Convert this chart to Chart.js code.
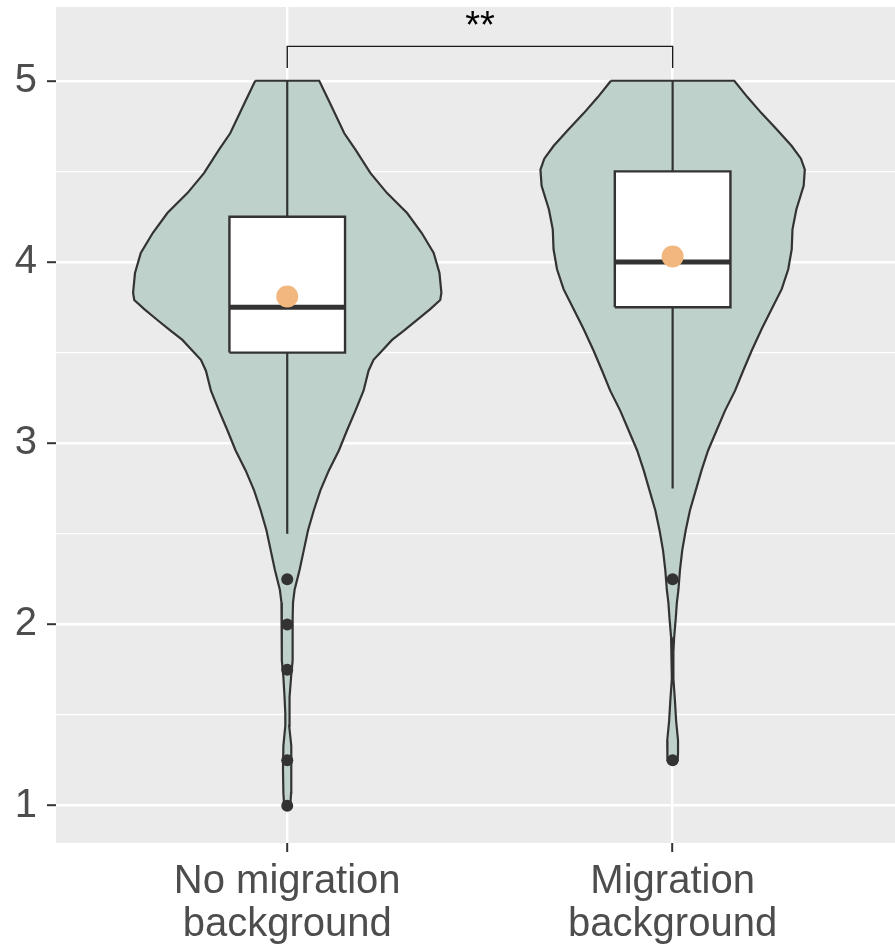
<!DOCTYPE html>
<html>
<head>
<meta charset="utf-8">
<script src="https://cdn.jsdelivr.net/npm/chart.js@4.4.1/dist/chart.umd.min.js"></script>
<style>
  html, body { margin: 0; padding: 0; background: #ffffff; overflow: hidden; }
  #chart { display: block; }
</style>
</head>
<body>
<canvas id="chart" width="895" height="947"></canvas>
<script>
// ---- data ----
const categories = [['No migration', 'background'], ['Migration', 'background']];
const yTickValues = [1, 2, 3, 4, 5];

// violin outlines: score value and half-width (in category units)
const violinNoMigValues = [5.00, 4.89, 4.71, 4.62, 4.49, 4.38, 4.27, 4.16, 4.05, 3.94, 3.83, 3.79, 3.74, 3.68, 3.62, 3.57, 3.51, 3.46, 3.40, 3.29, 3.18, 3.07, 2.96, 2.85, 2.74, 2.63, 2.52, 2.41, 2.30, 2.19, 2.12, 2.03, 1.80, 1.71, 1.60, 1.51, 1.44, 1.33, 1.20, 1.07, 1.00];
const violinNoMigHalfWidths = [0.083, 0.108, 0.148, 0.177, 0.216, 0.259, 0.311, 0.349, 0.380, 0.395, 0.400, 0.397, 0.371, 0.337, 0.302, 0.272, 0.246, 0.224, 0.211, 0.198, 0.177, 0.155, 0.134, 0.108, 0.086, 0.069, 0.054, 0.043, 0.032, 0.019, 0.015, 0.014, 0.014, 0.010, 0.007, 0.005, 0.005, 0.010, 0.011, 0.010, 0.008];
const violinMigValues = [5.00, 4.91, 4.82, 4.73, 4.64, 4.57, 4.51, 4.42, 4.29, 4.18, 4.07, 3.96, 3.85, 3.74, 3.63, 3.51, 3.40, 3.29, 3.18, 3.07, 2.96, 2.85, 2.74, 2.63, 2.52, 2.41, 2.30, 2.19, 2.12, 2.03, 1.93, 1.85, 1.70, 1.58, 1.47, 1.36, 1.29, 1.25];
const violinMigHalfWidths = [0.160, 0.194, 0.231, 0.271, 0.309, 0.333, 0.343, 0.340, 0.321, 0.311, 0.309, 0.300, 0.283, 0.257, 0.231, 0.205, 0.183, 0.162, 0.136, 0.114, 0.092, 0.075, 0.060, 0.045, 0.034, 0.025, 0.019, 0.015, 0.011, 0.008, 0.004, 0.002, 0.002, 0.006, 0.009, 0.014, 0.014, 0.013];

// boxplot statistics per group
const boxQ1 = [3.50, 3.75];
const boxMedian = [3.75, 4.00];
const boxQ3 = [4.25, 4.50];
const whiskerLow = [2.50, 2.75];
const whiskerHigh = [5.00, 5.00];
const groupMeans = [3.81, 4.03];
const outliersNoMig = [2.25, 2.00, 1.75, 1.25, 1.00];
const outliersMig = [2.25, 1.25];

// significance bracket between the two groups
const significanceLabel = '**';
const bracketTop = 5.19;
const bracketFoot = 5.07;

// ---- styling ----
const BOX_HALF = 0.15;
const INK = '#333333';
const VIOLIN_FILL = '#BFD1CB';
const MEAN_COLOR = '#F1B77E';
const FONT_FAMILY = "'Liberation Sans', Arial, sans-serif";

function violinPolygon(center, values, halfWidths) {
  const left = values.map((v, i) => ({ x: center - halfWidths[i], y: v }));
  const right = values.map((v, i) => ({ x: center + halfWidths[i], y: v })).reverse();
  const pts = left.concat(right);
  pts.push(pts[0]);
  return pts;
}

const datasets = [];
const violins = [
  [violinNoMigValues, violinNoMigHalfWidths],
  [violinMigValues, violinMigHalfWidths]
];
const outlierSets = [outliersNoMig, outliersMig];

categories.forEach((cat, i) => {
  const c = i + 1;
  // violin body
  datasets.push({
    data: violinPolygon(c, violins[i][0], violins[i][1]),
    fill: 'shape',
    backgroundColor: VIOLIN_FILL,
    borderColor: INK,
    borderWidth: 2.2,
    pointRadius: 0,
    tension: 0,
    order: 10
  });
  // whiskers
  datasets.push({
    data: [{ x: c, y: boxQ3[i] }, { x: c, y: whiskerHigh[i] }],
    borderColor: INK, borderWidth: 2.2, pointRadius: 0, fill: false, order: 9
  });
  datasets.push({
    data: [{ x: c, y: boxQ1[i] }, { x: c, y: whiskerLow[i] }],
    borderColor: INK, borderWidth: 2.2, pointRadius: 0, fill: false, order: 9
  });
  // box
  datasets.push({
    data: [
      { x: c - BOX_HALF, y: boxQ1[i] }, { x: c + BOX_HALF, y: boxQ1[i] },
      { x: c + BOX_HALF, y: boxQ3[i] }, { x: c - BOX_HALF, y: boxQ3[i] },
      { x: c - BOX_HALF, y: boxQ1[i] }
    ],
    fill: 'shape', backgroundColor: '#ffffff',
    borderColor: INK, borderWidth: 2.4, pointRadius: 0, borderJoinStyle: 'miter', order: 8
  });
  // median
  datasets.push({
    data: [{ x: c - BOX_HALF, y: boxMedian[i] }, { x: c + BOX_HALF, y: boxMedian[i] }],
    borderColor: INK, borderWidth: 5, borderCapStyle: 'butt', pointRadius: 0, fill: false, order: 7
  });
  // outliers
  datasets.push({
    data: outlierSets[i].map(v => ({ x: c, y: v })),
    showLine: false, pointRadius: 6, pointBackgroundColor: INK, pointBorderWidth: 0,
    borderColor: INK, order: 6
  });
  // mean
  datasets.push({
    data: [{ x: c, y: groupMeans[i] }],
    showLine: false, pointRadius: 11, pointBackgroundColor: MEAN_COLOR, pointBorderWidth: 0,
    borderColor: MEAN_COLOR, order: 5
  });
});

// bracket
datasets.push({
  data: [{ x: 1, y: bracketFoot }, { x: 1, y: bracketTop }, { x: 2, y: bracketTop }, { x: 2, y: bracketFoot }],
  borderColor: '#1a1a1a', borderWidth: 1.4, pointRadius: 0, fill: false, order: 4
});

const panelBackground = {
  id: 'panelBackground',
  beforeDraw(chart) {
    const { ctx, chartArea: a } = chart;
    ctx.save();
    ctx.fillStyle = '#EBEBEB';
    ctx.fillRect(a.left, a.top, a.right - a.left, a.bottom - a.top);
    ctx.restore();
  }
};

const significanceText = {
  id: 'significanceText',
  afterDatasetsDraw(chart) {
    const { ctx, scales } = chart;
    const x = scales.x.getPixelForValue(1.5);
    const y = scales.y.getPixelForValue(bracketTop) - 8;
    ctx.save();
    ctx.fillStyle = '#000000';
    ctx.font = '38px ' + FONT_FAMILY;
    ctx.textAlign = 'center';
    ctx.textBaseline = 'alphabetic';
    ctx.fillText(significanceLabel, x, y);
    ctx.restore();
  }
};

function dropPadding(scale) {
  scale.paddingTop = 0;
  scale.paddingBottom = 0;
  scale.paddingLeft = 0;
  scale.paddingRight = 0;
}

new Chart(document.getElementById('chart'), {
  type: 'line',
  data: { datasets },
  options: {
    responsive: false,
    animation: false,
    devicePixelRatio: 1,
    layout: { autoPadding: false, padding: { top: 7, right: 0, left: 0, bottom: 0 } },
    plugins: { legend: { display: false }, tooltip: { enabled: false } },
    scales: {
      x: {
        type: 'linear',
        min: 0.4,
        max: 2.577,
        afterBuildTicks(scale) { scale.ticks = categories.map((_, i) => ({ value: i + 1 })); },
        afterFit(scale) { scale.height = 104; dropPadding(scale); },
        ticks: {
          autoSkip: false,
          maxRotation: 0,
          padding: 8,
          color: '#4D4D4D',
          font: { family: FONT_FAMILY, size: 40, lineHeight: 1.08 },
          callback: (v) => categories[Math.round(v) - 1] || ''
        },
        grid: { color: '#ffffff', lineWidth: 2.4, tickLength: 9, tickColor: INK, tickWidth: 2 },
        border: { display: false }
      },
      y: {
        type: 'linear',
        min: 0.794,
        max: 5.407,
        afterBuildTicks(scale) {
          const t = [];
          for (let v = 1; v <= 5; v += 0.5) t.push({ value: v });
          scale.ticks = t;
        },
        afterFit(scale) { scale.width = 56; dropPadding(scale); },
        ticks: {
          autoSkip: false,
          padding: 10,
          color: '#4D4D4D',
          font: { family: FONT_FAMILY, size: 40 },
          callback: (v) => (yTickValues.includes(v) ? String(v) : '')
        },
        grid: {
          color: '#ffffff',
          lineWidth: (ctx) => (ctx.tick && Number.isInteger(ctx.tick.value) ? 2.4 : 1.2),
          tickLength: 9,
          tickWidth: 2,
          tickColor: (ctx) => (ctx.tick && Number.isInteger(ctx.tick.value) ? INK : 'rgba(0,0,0,0)')
        },
        border: { display: false }
      }
    }
  },
  plugins: [panelBackground, significanceText]
});
</script>
</body>
</html>
